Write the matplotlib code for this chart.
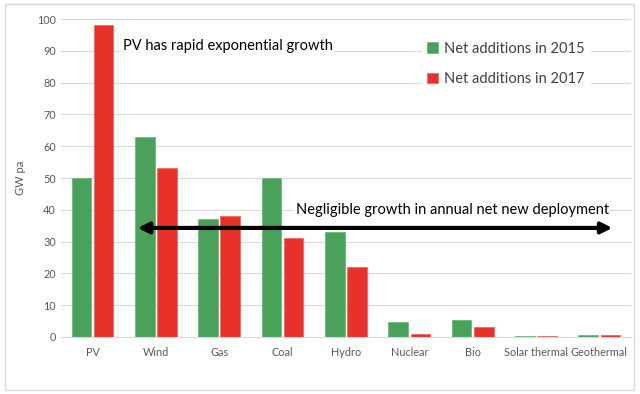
import numpy as np
import matplotlib.pyplot as plt
from matplotlib.patches import Rectangle

plt.rcParams["font.family"] = ["Lato", "DejaVu Sans"]

categories = ["PV", "Wind", "Gas", "Coal", "Hydro", "Nuclear", "Bio", "Solar thermal", "Geothermal"]
net_2015 = [50, 63, 37, 50, 33, 4.8, 5.2, 0.3, 0.6]
net_2017 = [98, 53, 38, 31, 22, 0.8, 3.0, 0.2, 0.7]

green = "#4aa25a"
red = "#e8312a"

fig = plt.figure(figsize=(6.4, 3.94), dpi=100)
ax = fig.add_axes([0.095, 0.1447, 0.891, 0.807])

# outer chart frame
fig.patches.append(Rectangle((5 / 640, 4 / 394), 629 / 640, 386 / 394, transform=fig.transFigure,
                             fill=False, edgecolor="#d9d9d9", lw=1))

x = np.arange(len(categories))
w = 0.31
ax.bar(x - 0.175, net_2015, w, color=green, edgecolor="#6dbb7a", lw=0.6, label="Net additions in 2015", zorder=2)
ax.bar(x + 0.175, net_2017, w, color=red, edgecolor="#f06a60", lw=0.6, label="Net additions in 2017", zorder=2)

ax.set_xlim(-0.5, len(categories) - 0.5)
ax.set_ylim(0, 100)
ax.set_yticks(range(0, 101, 10))
ax.set_xticks(x)
ax.set_xticklabels(categories)
ax.tick_params(axis="both", length=0, labelsize=7.8, colors="#595959")
ax.tick_params(axis="x", pad=7)
ax.grid(axis="y", color="#d9d9d9", lw=0.8, zorder=0)
ax.set_axisbelow(True)
for s in ["top", "right", "left"]:
    ax.spines[s].set_visible(False)
ax.spines["bottom"].set_color("#d9d9d9")
ax.set_ylabel("GW pa", fontsize=8, color="#595959", labelpad=8)

leg = ax.legend(loc="upper left", bbox_to_anchor=(0.62, 0.97), frameon=True, fontsize=10.5,
                handlelength=0.7, handleheight=0.7, handletextpad=0.4, labelspacing=1.1,
                labelcolor="#404040")
leg.get_frame().set_edgecolor("white")
leg.get_frame().set_facecolor("white")
leg.get_frame().set_alpha(1)

ax.text(0.48, 91.5, "PV has rapid exponential growth", fontsize=10.5, va="center", ha="left",
        bbox=dict(facecolor="white", edgecolor="none", pad=1), zorder=3)
ax.text(5.68, 40, "Negligible growth in annual net new deployment", fontsize=10.5, va="center", ha="center",
        bbox=dict(facecolor="white", edgecolor="none", pad=1), zorder=3)
ax.annotate("", xy=(0.67, 34.3), xytext=(8.25, 34.3),
            arrowprops=dict(arrowstyle="<|-|>", color="black", lw=3, mutation_scale=16), zorder=4)

fig.savefig("out.png", dpi=100)
